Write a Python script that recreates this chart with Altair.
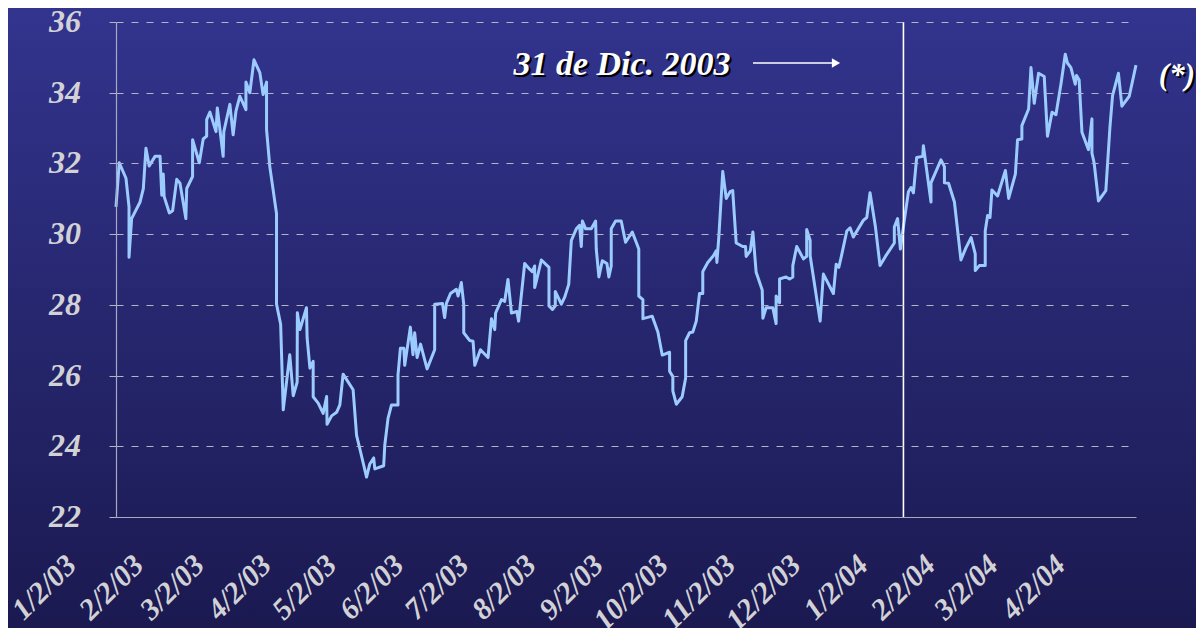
import altair as alt
import pandas as pd

# days after 2 Jan 2003
days = [0,1.5,4.6,6.0,6.0,7.2,11.1,12.6,13.8,15.3,18.0,20.3,21.1,21.8,22.2,24.6,26.1,28.0,29.5,32.2,
        32.6,35.3,35.3,38.4,40.2,41.8,41.8,43.3,46.1,46.7,49.4,49.7,52.5,54.0,55.3,57.1,59.9,59.9,61.7,63.6,
        66.3,67.8,69.4,69.4,70.9,74.0,74.0,75.9,77.1,80.1,81.7,83.5,83.6,84.8,87.8,88.1,89.4,90.9,90.9,
        93.2,95.5,97.1,97.3,99.4,101.7,103.2,104.7,109.3,110.9,112.4,115.5,117.0,118.8,119.3,123.4,123.9,125.4,127.0,130.0,
        130.0,131.1,132.7,133.1,135.7,136.9,137.7,138.8,140.4,143.4,146.9,146.9,150.5,151.5,152.3,154.2,156.9,157.7,159.2,160.3,
        160.3,163.1,164.6,165.4,168.0,171.5,173.1,174.6,175.0,177.7,179.2,180.7,182.3,
        184.8,185.6,188.4,190.7,191.9,193.0,193.0,193.8,196.1,199.6,199.6,201.2,202.5,202.5,205.3,206.8,208.7,209.9,212.2,213.7,
        214.5,215.0,216.5,219.1,221.1,221.4,222.6,224.2,226.3,227.2,228.3,228.3,230.3,232.9,234.9,238.0,241.0,241.0,242.9,242.9,
        247.2,249.8,251.8,255.2,255.2,256.7,256.7,258.3,261.0,262.6,262.6,264.4,265.9,267.5,269.0,270.5,270.5,272.8,275.4,276.7,
        277.0,277.9,
        279.7,281.3,283.1,284.3,285.9,288.9,290.2,290.5,292.4,293.6,295.1,297.9,298.2,299.7,302.8,304.3,304.3,305.9,305.9,308.9,
        310.5,312.0,312.0,313.8,316.9,318.4,318.4,320.0,320.0,324.6,326.1,330.7,332.0,333.2,334.3,336.9,338.4,339.9,344.5,346.1,
        347.6,350.1,352.2,354.7,358.8,358.8,360.3,361.6,363.4,
        365.3,366.5,367.6,369.1,371.9,372.2,375.7,375.7,380.3,381.9,381.9,383.8,386.5,389.5,391.8,394.2,396.1,396.1,398.0,400.7,
        400.7,401.8,402.9,403.8,406.4,410.0,411.5,414.6,415.6,417.6,417.6,420.7,421.8,423.3,425.3,427.9,429.4,431.5,433.3,435.6,
        437.6,438.6,440.2,442.2,442.8,444.0,445.3,448.3,449.9,449.9,450.9,452.9,456.3,458.2,459.4,462.1,463.7,467.1,470.2]

prices = [30.77,32.02,31.58,30.77,29.35,30.44,30.91,31.29,32.43,31.93,32.2,32.2,31.1,31.7,31.06,30.6,30.66,31.55,31.44,30.44,
          31.29,31.63,32.67,32.02,32.69,32.77,33.24,33.45,32.9,33.57,32.2,32.9,33.67,32.81,33.48,33.9,33.52,34.3,34.0,34.93,
          34.57,33.95,34.3,32.96,31.91,30.58,28.02,27.45,25.03,26.59,25.43,25.81,27.78,27.3,27.92,27.07,26.21,26.4,25.4,
          25.22,24.93,25.41,24.62,24.86,24.96,25.17,26.04,25.6,24.31,23.93,23.13,23.5,23.67,23.36,23.45,24.03,24.79,25.17,25.17,
          26.02,26.77,26.77,26.29,27.37,26.59,27.21,26.51,26.89,26.19,26.73,28.02,28.04,27.64,28.04,28.32,28.44,28.25,28.63,28.02,
          27.21,26.99,26.97,26.29,26.73,26.51,27.61,27.3,27.77,28.15,28.1,28.72,27.77,
          27.81,27.54,29.17,29.01,28.94,29.1,28.49,28.68,29.27,29.06,27.97,27.87,27.97,28.38,28.02,28.21,28.58,29.82,30.15,30.25,
          29.65,30.37,30.15,30.15,30.37,29.58,28.79,29.25,29.17,28.79,29.1,30.15,30.37,30.37,29.77,30.06,29.58,28.25,28.15,27.61,
          27.68,27.23,26.58,26.66,26.12,25.97,25.57,25.19,25.4,25.93,26.99,27.21,27.23,27.54,28.32,28.32,28.94,29.2,29.39,29.53,
          29.2,29.92,
          31.77,31.01,31.2,31.23,29.75,29.65,29.65,29.37,29.53,30.06,28.92,28.42,27.62,27.92,27.92,27.47,28.25,28.06,28.73,28.79,
          28.73,28.79,29.11,29.65,29.3,29.37,30.13,29.82,29.39,27.54,28.87,28.32,29.15,29.06,29.35,30.09,30.18,29.92,30.39,30.47,
          31.17,30.2,29.11,29.37,29.75,30.2,30.44,29.58,30.39,
          31.2,31.32,31.17,32.17,32.2,32.5,30.91,31.45,32.1,31.91,31.45,31.44,30.91,29.27,29.61,29.9,29.44,28.97,29.11,29.11,
          30.09,30.53,30.47,31.25,31.08,31.8,31.01,31.7,32.67,32.69,33.07,33.54,34.71,33.7,34.55,34.46,32.77,33.45,33.38,34.24,
          35.09,34.84,34.71,34.24,34.49,34.36,32.88,32.39,33.26,32.29,32.02,30.94,31.23,33.03,33.92,34.55,33.62,33.9,34.78]

assert len(days) == len(prices), (len(days), len(prices))

y_ticks = [22, 24, 26, 28, 30, 32, 34, 36]
tick_dates = ["2003-01-02", "2003-02-02", "2003-03-02", "2003-04-02", "2003-05-02", "2003-06-02",
              "2003-07-02", "2003-08-02", "2003-09-02", "2003-10-02", "2003-11-02", "2003-12-02",
              "2004-01-02", "2004-02-02", "2004-03-02", "2004-04-02"]
tick_labels = ["1/2/03", "2/2/03", "3/2/03", "4/2/03", "5/2/03", "6/2/03", "7/2/03", "8/2/03",
               "9/2/03", "10/2/03", "11/2/03", "12/2/03", "1/2/04", "2/2/04", "3/2/04", "4/2/04"]
annotation = "31 de Dic. 2003"
footnote = "(*)"

start = pd.Timestamp("2003-01-02")
df = pd.DataFrame({
    "fecha": start + pd.to_timedelta(days, unit="D"),
    "precio": prices,
    "i": list(range(len(prices))),
})
ticks_df = pd.DataFrame({"fecha": pd.to_datetime(tick_dates), "label": tick_labels})
yticks_df = pd.DataFrame({"precio": y_ticks, "label": [str(v) for v in y_ticks]})

FONT = "Liberation Serif"
GREY = "#d2d2d6"
W, H = 1020, 495
one = pd.DataFrame({"a": [0]})

x_scale = alt.Scale(domain=[alt.DateTime(year=2003, month=1, date=2),
                            alt.DateTime(year=2004, month=4, date=16, hours=5)], nice=False)
y_scale = alt.Scale(domain=[22, 36], nice=False, zero=False)

x_axis = alt.Axis(values=[alt.DateTime(year=2003, month=1, date=2)], labels=False, title=None,
                  zindex=1, grid=False, ticks=False, domainColor="#a8a8c0", domainWidth=1.2)
y_axis = alt.Axis(values=y_ticks, labels=False, title=None, grid=True, gridColor="#b4b4c8",
                  zindex=1, gridDash=[7, 8], gridWidth=1, tickSize=11, tickColor="#b4b4c8",
                  tickDash=[7, 8], domainColor="#a8a8c0", domainWidth=1.2)

bg = alt.Chart(one).mark_rect(
    color=alt.Gradient(gradient="linear",
                       stops=[alt.GradientStop(color="#32348e", offset=0),
                              alt.GradientStop(color="#1b1950", offset=1)],
                       x1=0, x2=0, y1=0, y2=1)
).encode(x=alt.value(-108), x2=alt.value(1080), y=alt.value(-14), y2=alt.value(606))

line = alt.Chart(df).mark_line(color="#9ccbff", strokeWidth=3, strokeJoin="round").encode(
    x=alt.X("fecha:T", scale=x_scale, axis=x_axis),
    y=alt.Y("precio:Q", scale=y_scale, axis=y_axis),
    order=alt.Order("i:Q"),
)

lab_style = dict(font=FONT, fontWeight="bold", fontStyle="italic", color=GREY)

xlabels = alt.Chart(ticks_df).mark_text(
    align="right", baseline="alphabetic", angle=315, fontSize=30, **lab_style
).encode(
    x=alt.X("fecha:T", scale=x_scale, axis=x_axis),
    xOffset=alt.value(-38),
    y=alt.value(H + 50),
    text="label:N",
)

ylabels = alt.Chart(yticks_df).mark_text(
    align="right", baseline="middle", fontSize=32, **lab_style
).encode(
    y=alt.Y("precio:Q", scale=y_scale, axis=y_axis),
    x=alt.value(-35),
    text="label:N",
)

vline = alt.Chart(one).mark_rule(color="white", strokeWidth=1.6).encode(
    x=alt.datum(alt.DateTime(year=2003, month=12, date=31)))

def label(text, x, y, size, align="center"):
    base = dict(font=FONT, fontSize=size, fontWeight="bold", fontStyle="italic",
                align=align, baseline="alphabetic", text=text)
    shadow = alt.Chart(one).mark_text(color="black", dx=2, dy=2, **base).encode(
        x=alt.value(x), y=alt.value(y))
    front = alt.Chart(one).mark_text(color="white", **base).encode(
        x=alt.value(x), y=alt.value(y))
    return shadow + front

ann = label(annotation, 506, 53, 34)
star = label(footnote, 1079, 63, 31, align="right")

arrow = alt.Chart(one).mark_rule(color="white", strokeWidth=1.6).encode(
    x=alt.value(637), x2=alt.value(716), y=alt.value(41))
head = alt.Chart(one).mark_point(shape="triangle-right", filled=True, color="white",
                                 opacity=1, size=90).encode(x=alt.value(720), y=alt.value(41))

chart = alt.layer(bg, line, vline, xlabels, ylabels, ann, arrow, head, star).properties(
    width=W, height=H,
    padding={"left": 108, "top": 14, "right": 60, "bottom": 111},
    autosize=alt.AutoSizeParams(type="none"),
    background="#1b1950",
).configure_view(stroke=None)

chart.save("out.html", embed_options={"renderer": "svg", "actions": False})
